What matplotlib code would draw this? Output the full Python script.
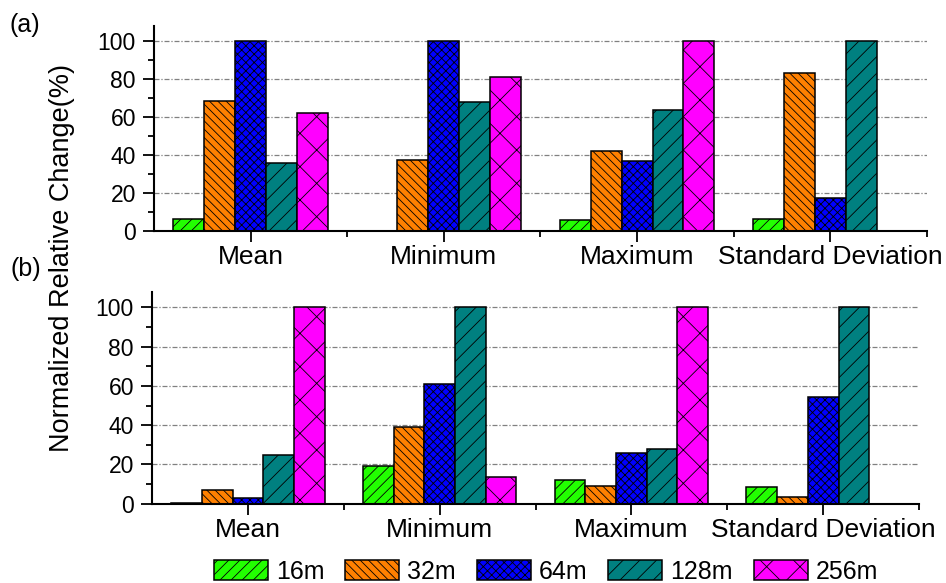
import numpy as np
import matplotlib.pyplot as plt
from matplotlib.ticker import MultipleLocator, FixedLocator
from matplotlib.patches import Patch

plt.rcParams['font.family'] = ['Liberation Sans', 'DejaVu Sans']
plt.rcParams['hatch.linewidth'] = 0.6

categories = ["Mean", "Minimum", "Maximum", "Standard Deviation"]
series = ["16m", "32m", "64m", "128m", "256m"]
colors = ["#22FF00", "#FF8000", "#0000FF", "#008080", "#FF00FF"]
hatches = ["///", "\\\\\\\\", "xxxx", "//", "x"]

# normalized relative change (%) per statistic, one list per spacing
panel_a = {
    "16m":  [6.2, 0.0, 5.8, 6.3],
    "32m":  [68.5, 37.2, 41.9, 83.5],
    "64m":  [100.0, 100.0, 37.0, 17.6],
    "128m": [35.6, 68.0, 63.9, 100.0],
    "256m": [62.0, 81.0, 100.0, 0.0],
}
panel_b = {
    "16m":  [0.5, 19.4, 11.9, 8.3],
    "32m":  [7.0, 39.1, 9.0, 3.6],
    "64m":  [2.9, 61.1, 25.7, 54.4],
    "128m": [24.7, 100.0, 27.9, 100.0],
    "256m": [100.0, 13.8, 100.0, 0.0],
}

fig = plt.figure(figsize=(9.46, 5.83), dpi=100)
ax_a = fig.add_axes([0.1628, 0.6038, 0.8171, 0.3516])
ax_b = fig.add_axes([0.1607, 0.1360, 0.8108, 0.3636])

x = np.arange(1, len(categories) + 1)
w = 0.16

def draw(ax, data):
    for i, s in enumerate(series):
        vals = np.array(data[s])
        ax.bar(x + (i - 2) * w, vals, w, color=colors[i], hatch=hatches[i],
               edgecolor="black", linewidth=1.1, zorder=2)
    ax.set_xlim(0.5, 4.5)
    ax.set_ylim(0, 108)
    ax.set_xticks(x)
    ax.set_xticklabels(categories, fontsize=19)
    ax.xaxis.set_minor_locator(FixedLocator([1.5, 2.5, 3.5, 4.5]))
    ax.set_yticks([0, 20, 40, 60, 80, 100])
    ax.yaxis.set_minor_locator(MultipleLocator(10))
    ax.tick_params(axis="y", labelsize=16.5, pad=5)
    ax.tick_params(which="major", direction="out", length=8, width=1.3)
    ax.tick_params(which="minor", direction="out", length=4, width=1.3)
    ax.tick_params(axis="x", pad=2)
    for yv in [20, 40, 60, 80, 100]:
        ax.axhline(yv, color="#808080", lw=0.9, ls=(0, (4, 1.5, 1, 1.5)), zorder=1)
    for sp in ["top", "right"]:
        ax.spines[sp].set_visible(False)
    for sp in ["left", "bottom"]:
        ax.spines[sp].set_linewidth(1.5)

draw(ax_a, panel_a)
draw(ax_b, panel_b)

fig.text(25 / 946, 1 - 25 / 583, "(a)", fontsize=18, ha="center", va="center")
fig.text(26 / 946, 1 - 269 / 583, "(b)", fontsize=18, ha="center", va="center")
fig.text(62 / 946, 1 - 258 / 583, "Normalized Relative Change(%)", fontsize=19.5,
         rotation=90, ha="center", va="center")

handles = [Patch(facecolor=colors[i], edgecolor="black", hatch=hatches[i],
                 linewidth=1.1, label=s) for i, s in enumerate(series)]
fig.legend(handles=handles, loc="center", bbox_to_anchor=(546 / 946, 1 - 572 / 583),
           ncol=5, frameon=False, fontsize=18, handlelength=2.16, handleheight=0.84,
           handletextpad=0.32, columnspacing=0.84, borderpad=0, borderaxespad=0)

fig.savefig("out.png", dpi=100)
